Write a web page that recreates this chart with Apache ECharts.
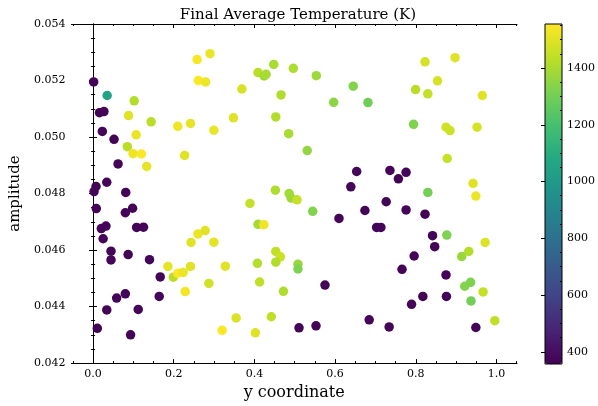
<!DOCTYPE html>
<html>
<head>
<meta charset="utf-8">
<script src="https://cdn.jsdelivr.net/npm/echarts@6/dist/echarts.min.js"></script>
<style>html,body{margin:0;padding:0;background:#fff}#c{width:598px;height:406px}</style>
</head>
<body>
<div id="c"></div>
<script>
const xs = [0.0015,0.035,0.102,0.016,0.027,0.088,0.144,0.210,0.2416,0.2995,0.258,0.290,0.261,0.279,0.023,0.107,0.052,0.085,0.099,0.120,0.227,0.062,0.133,0.034,0.0074,0.0025,0.081,
0.448,0.409,0.424,0.429,0.4965,0.5535,0.645,0.5965,0.6815,0.369,0.466,0.348,0.453,0.485,0.531,0.6535,0.639,0.452,0.486,
0.823,0.8975,0.854,0.7995,0.830,0.965,0.7945,0.875,0.885,0.952,0.878,0.736,0.776,0.757,0.942,0.830,0.949,
0.008,0.080,0.098,0.0205,0.032,0.108,0.125,0.025,0.0445,0.0445,0.087,0.140,0.1665,0.164,0.0585,0.080,0.034,0.112,0.0106,0.093,
0.1856,0.199,0.210,0.2235,0.2415,0.2285,0.287,0.243,0.260,0.278,0.2995,0.320,
0.328,0.389,0.491,0.5057,0.5445,0.6097,0.674,0.409,0.4233,0.453,0.4644,0.453,0.4074,0.508,0.508,0.575,0.413,0.472,0.3547,0.442,0.4025,0.5106,0.5527,0.6846,
0.7267,0.776,0.823,0.703,0.7136,0.8416,0.847,0.877,0.796,0.972,0.9314,0.914,0.766,0.875,0.936,0.9215,0.967,0.8176,0.876,0.7896,0.937,0.734,0.949,0.996];
const ys = [0.05195,0.05147,0.05128,0.05086,0.0509,0.05076,0.05054,0.05038,0.05048,0.05024,0.05274,0.05295,0.0520,0.05195,0.0502,0.05008,0.04992,0.04966,0.04941,0.0494,0.04935,0.04905,0.04896,0.0484,0.04825,0.04807,0.04804,
0.05257,0.05228,0.05216,0.05222,0.05243,0.05217,0.0518,0.05123,0.05122,0.0517,0.05149,0.05068,0.05071,0.05012,0.04952,0.04878,0.04824,0.04812,0.0480,
0.05266,0.05281,0.05199,0.05168,0.05153,0.05147,0.05045,0.05035,0.05023,0.05035,0.04924,0.04882,0.04875,0.04852,0.04836,0.04804,0.04791,
0.04747,0.04732,0.04748,0.04676,0.04685,0.0468,0.04681,0.0464,0.04596,0.04565,0.04584,0.04566,0.04505,0.04436,0.0443,0.04445,0.04388,0.0439,0.04323,0.0430,
0.04542,0.04504,0.04518,0.04521,0.04542,0.04453,0.04482,0.04627,0.04657,0.04669,0.04628,0.04316,
0.04543,0.04765,0.04784,0.04778,0.04737,0.04712,0.0474,0.04691,0.0469,0.04595,0.04576,0.04557,0.04553,0.0455,0.04533,0.04476,0.04487,0.04454,0.0436,0.04364,0.04307,0.04325,0.04332,0.04353,
0.04771,0.04742,0.04727,0.0468,0.0468,0.04651,0.04612,0.04653,0.04579,0.04627,0.04595,0.04577,0.04532,0.04512,0.04486,0.04472,0.04452,0.04436,0.04436,0.04408,0.0442,0.04328,0.04326,0.0435];
const temps = [370,1050,1420,365,370,1500,1430,1530,1510,1520,1545,1520,1550,1525,370,1520,365,1430,1530,1550,1500,368,1510,372,366,370,368,
1400,1430,1380,1400,1410,1380,1330,1350,1290,1480,1410,1500,1420,1400,1360,368,372,1410,1390,
1480,1500,1480,1430,1450,1500,1320,1470,1460,1480,1450,368,370,365,1500,1300,1520,
368,370,366,372,368,370,365,370,368,372,366,370,368,372,365,370,368,372,366,370,
1510,1430,1550,1520,1500,1540,1470,1500,1520,1500,1510,1550,
1500,1450,1380,1450,1330,368,370,1390,1530,1440,1460,1420,1420,1370,1320,368,1440,1410,1490,1440,1500,370,366,372,
368,370,366,368,372,370,365,1320,368,1490,1420,1370,370,368,1320,1330,1450,366,370,372,1300,368,370,1440];

const xMajor = [0.0,0.2,0.4,0.6,0.8,1.0];
const xMinor = [-0.05,0.05,0.1,0.15,0.25,0.3,0.35,0.45,0.5,0.55,0.65,0.7,0.75,0.85,0.9,0.95,1.05];
const cbMajor = [400,600,800,1000,1200,1400];
const cbMinor = [450,500,550,650,700,750,850,900,950,1050,1100,1150,1250,1300,1350,1450,1500,1550];
const viridis = ['#440154','#482475','#414487','#355f8d','#2a788e','#21918c','#22a884','#44bf70','#7ad151','#bddf26','#fde725'];

const XMIN = -0.0537, XMAX = 1.051;
const TMIN = 357, TMAX = 1555;
const FONT = 'DejaVu Serif';

const data = xs.map((x, i) => [x, ys[i], temps[i]]);

const lineStyle = {color: '#000', width: 1};
function xAx(pos, ticks, len, labels, showLine) {
  return {
    type: 'value', gridIndex: 0, position: pos, min: XMIN, max: XMAX,
    axisLine: {show: showLine, lineStyle: lineStyle},
    axisTick: {show: true, inside: true, length: len, customValues: ticks, lineStyle: lineStyle},
    axisLabel: labels ? {show: true, customValues: xMajor, formatter: v => v.toFixed(1), fontFamily: FONT, fontSize: 11, color: '#000', margin: 6} : {show: false},
    splitLine: {show: false}
  };
}
const chart = echarts.init(document.getElementById('c'));
chart.setOption({
  animation: false,
  backgroundColor: '#fff',
  title: {
    text: 'Final Average Temperature (K)', left: 293, top: 3, textAlign: 'center',
    textStyle: {fontFamily: FONT, fontSize: 15, fontWeight: 'normal', color: '#000'}
  },
  grid: [
    {left: 70, top: 24, width: 447, height: 340, show: false},
    {left: 545, top: 24, width: 17, height: 340, show: true, borderColor: '#000', borderWidth: 1, backgroundColor: 'transparent', z: 10}
  ],
  xAxis: [
    Object.assign(xAx('bottom', xMajor, 4, true, true), {name: 'y coordinate', nameLocation: 'middle', nameGap: 20, nameTextStyle: {fontFamily: FONT, fontSize: 16, color: '#000'}}),
    xAx('bottom', xMinor, 2, false, false),
    xAx('top', xMajor, 4, false, true),
    xAx('top', xMinor, 2, false, false),
    {type: 'value', gridIndex: 1, show: false, min: 0, max: 1}
  ],
  yAxis: [
    {
      type: 'value', gridIndex: 0, position: 'left', min: 0.042, max: 0.054, interval: 0.002,
      axisLine: {show: true, lineStyle: lineStyle},
      axisTick: {show: true, inside: true, length: 4, lineStyle: lineStyle},
      minorTick: {show: true, splitNumber: 4, length: 2, lineStyle: lineStyle},
      axisLabel: {formatter: v => v.toFixed(3), fontFamily: FONT, fontSize: 11, color: '#000', margin: 6},
      splitLine: {show: false},
      name: 'amplitude', nameLocation: 'middle', nameGap: 46, nameRotate: 90,
      nameTextStyle: {fontFamily: FONT, fontSize: 15, color: '#000'}
    },
    {
      type: 'value', gridIndex: 0, position: 'right', min: 0.042, max: 0.054, interval: 0.002,
      axisLine: {show: true, lineStyle: lineStyle},
      axisTick: {show: true, inside: true, length: 4, lineStyle: lineStyle},
      minorTick: {show: true, splitNumber: 4, length: 2, lineStyle: lineStyle},
      axisLabel: {show: false}, splitLine: {show: false}
    },
    {
      type: 'value', gridIndex: 1, position: 'right', min: TMIN, max: TMAX,
      axisLine: {show: false},
      axisTick: {show: true, inside: true, length: 4, customValues: cbMajor, lineStyle: lineStyle},
      axisLabel: {show: true, customValues: cbMajor, formatter: v => String(Math.round(v)), fontFamily: FONT, fontSize: 11, color: '#000', margin: 5},
      splitLine: {show: false}, z: 10
    },
    {
      type: 'value', gridIndex: 1, position: 'right', min: TMIN, max: TMAX,
      axisLine: {show: false},
      axisTick: {show: true, inside: true, length: 2, customValues: cbMinor, lineStyle: lineStyle},
      axisLabel: {show: false}, splitLine: {show: false}, z: 10
    }
  ],
  visualMap: {
    type: 'continuous', min: TMIN, max: TMAX, dimension: 2, seriesIndex: 0,
    left: 545, top: 24, itemWidth: 17, itemHeight: 340, padding: 0,
    calculable: false, hoverLink: false, text: null, showLabel: false,
    inRange: {color: viridis}
  },
  series: [{
    type: 'scatter', xAxisIndex: 0, yAxisIndex: 0, data: data, symbolSize: 9.5,
    itemStyle: {opacity: 1}
  }]
});
</script>
</body>
</html>
